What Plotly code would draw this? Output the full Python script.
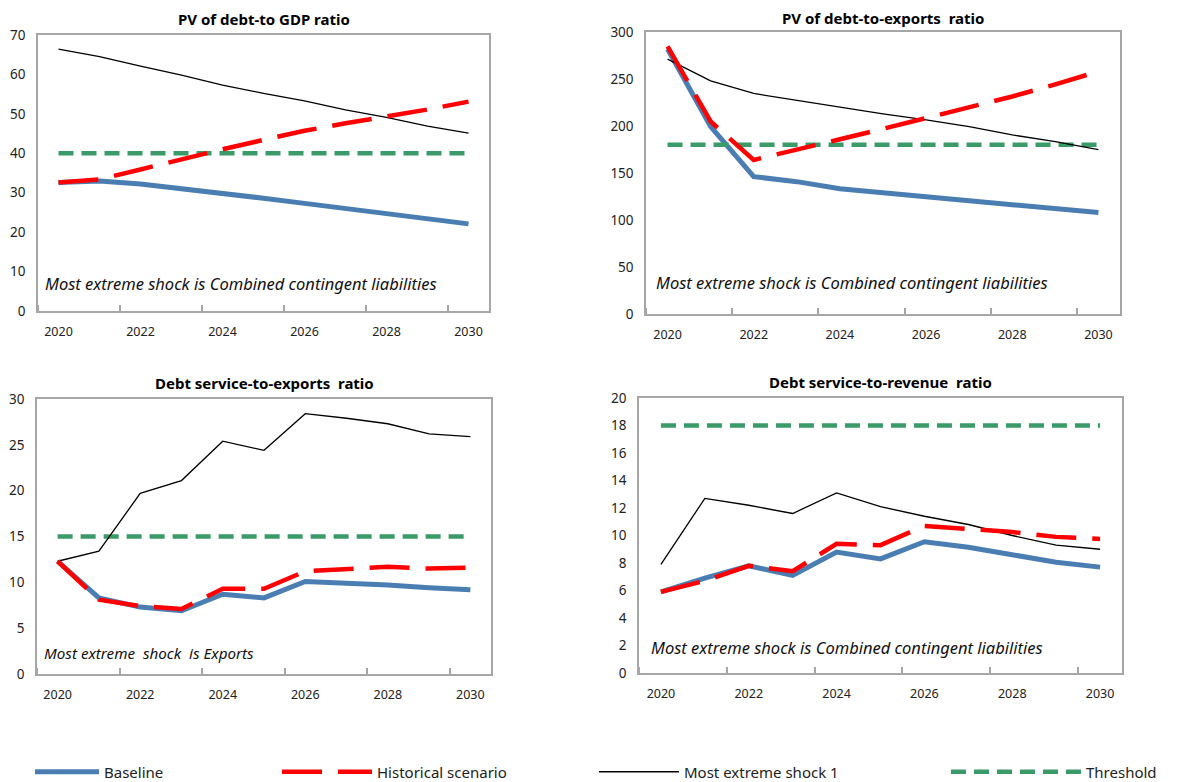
import plotly.graph_objects as go

years = list(range(2020, 2031))
tick_years = [2020, 2022, 2024, 2026, 2028, 2030]

titles = ["PV of debt-to GDP ratio", "PV of debt-to-exports  ratio",
          "Debt service-to-exports  ratio", "Debt service-to-revenue  ratio"]
notes = ["Most extreme shock is Combined contingent liabilities",
         "Most extreme shock is Combined contingent liabilities",
         "Most extreme  shock  is Exports",
         "Most extreme shock is Combined contingent liabilities"]

# Panel 1: PV of debt-to-GDP
p1_baseline = [32.6, 33.0, 32.2, 31.1, 30.0, 28.6, 27.3, 26.0, 24.5, 23.3, 22.1]
p1_hist = [32.6, 33.4, 35.9, 38.5, 41.0, 43.4, 45.7, 47.6, 49.3, 51.1, 53.1]
p1_shock = [66.4, 64.5, 62.1, 59.8, 57.3, 55.2, 53.3, 51.0, 49.1, 46.9, 45.1]
p1_thr = [40] * 11

# Panel 2: PV of debt-to-exports
p2_baseline = [282.0, 199.4, 146.1, 140.8, 133.3, 129.4, 124.8, 120.5, 116.2, 111.6, 108.1]
p2_hist = [284.8, 204.8, 163.9, 174.5, 185.9, 197.0, 208.3, 220.0, 231.4, 244.2, 258.1]
p2_shock = [271.2, 248.1, 234.6, 227.2, 220.0, 212.9, 206.5, 199.4, 190.5, 183.4, 174.9]
p2_thr = [180] * 11

# Panel 3: Debt service-to-exports
p3_baseline = [12.3, 8.3, 7.3, 6.9, 8.7, 8.3, 10.1, 9.95, 9.7, 9.4, 9.2]
p3_hist = [12.3, 8.1, 7.4, 7.1, 9.3, 9.3, 11.2, 11.5, 11.7, 11.5, 11.6]
p3_shock = [12.3, 13.4, 19.7, 21.1, 25.4, 24.4, 28.4, 27.9, 27.3, 26.2, 25.9]
p3_thr = [15] * 11

# Panel 4: Debt service-to-revenue
p4_baseline = [5.9, 6.9, 7.8, 7.1, 8.8, 8.3, 9.55, 9.15, 8.6, 8.05, 7.7]
p4_hist = [5.9, 6.7, 7.8, 7.4, 9.4, 9.3, 10.7, 10.5, 10.25, 9.9, 9.75]
p4_shock = [7.9, 12.7, 12.2, 11.6, 13.1, 12.1, 11.4, 10.8, 10.0, 9.3, 9.0]
p4_thr = [18] * 11

y_ranges = [[0, 70], [0, 300], [0, 30], [0, 20]]
y_dticks = [10, 50, 5, 2]

panels = [
    (p1_baseline, p1_hist, p1_shock, p1_thr),
    (p2_baseline, p2_hist, p2_shock, p2_thr),
    (p3_baseline, p3_hist, p3_shock, p3_thr),
    (p4_baseline, p4_hist, p4_shock, p4_thr),
]

W, H = 1190, 782
OFF = 8  # page body margin offset
# plot area boxes in screen pixels: (left, right, top, bottom)
boxes = [(38, 489, 35, 311), (646, 1120, 32, 314), (37, 491, 399, 674), (639, 1122, 398, 673)]
title_shift = [16, 14, 16, 16]
note_pos = [(0.012, 0.10), (0.017, 0.113), (0.012, 0.076), (0.021, 0.091)]
note_size = [16.5, 16.5, 15.2, 16.5]
# legend boxes: screen x and symbol width for Baseline, Historical, Most extreme, Threshold
legend_px = [30, 277, 594, 946]
legend_sym = [64, 90, 80, 130]

BLUE = "#4A7EB3"
RED = "#FF0000"
GREEN = "#3A9A68"
FRAME = "#A6A6A6"
FONT = "Noto Sans"

fig = go.Figure()

names = ["Baseline", "Historical scenario", "Most extreme shock 1", "Threshold"]
for i, (base, hist, shock, thr) in enumerate(panels):
    xa = "x" if i == 0 else f"x{i+1}"
    ya = "y" if i == 0 else f"y{i+1}"
    show = i == 0
    fig.add_trace(go.Scatter(x=years, y=base, mode="lines", name=names[0], legend="legend",
                             line=dict(color=BLUE, width=5), xaxis=xa, yaxis=ya, showlegend=show))
    fig.add_trace(go.Scatter(x=years, y=thr, mode="lines", name=names[3], legend="legend4",
                             line=dict(color=GREEN, width=4.5, dash="15px,8px"), xaxis=xa, yaxis=ya,
                             showlegend=show))
    fig.add_trace(go.Scatter(x=years, y=shock, mode="lines", name=names[2], legend="legend3",
                             line=dict(color="black", width=1.3), xaxis=xa, yaxis=ya, showlegend=show))
    fig.add_trace(go.Scatter(x=years, y=hist, mode="lines", name=names[1], legend="legend2",
                             line=dict(color=RED, width=4.5, dash="40px,16px"), xaxis=xa, yaxis=ya,
                             showlegend=show))

layout = dict(
    width=W, height=H, margin=dict(l=0, r=0, t=0, b=0, autoexpand=False),
    paper_bgcolor="white", plot_bgcolor="white",
    font=dict(family=FONT, size=13, color="#222222"),
    showlegend=True,
)
for k, lx in enumerate(legend_px):
    key = "legend" if k == 0 else f"legend{k+1}"
    layout[key] = dict(orientation="h", x=(lx - OFF) / W, y=1 - (772 - OFF) / H,
                       xanchor="left", yanchor="middle", itemwidth=legend_sym[k],
                       font=dict(size=15, color="#222222"), bgcolor="rgba(0,0,0,0)")

annotations = []
for i, (l, r, t, b) in enumerate(boxes):
    sx = "" if i == 0 else str(i + 1)
    layout[f"xaxis{sx}"] = dict(
        domain=[(l - OFF) / W, (r - OFF) / W], anchor=f"y{sx}", range=[2019.5, 2030.5],
        tickvals=tick_years, ticktext=[str(v) for v in tick_years], ticks="",
        showline=True, linecolor=FRAME, linewidth=1.5, mirror=True,
        showgrid=False, zeroline=False, tickfont=dict(size=12.5), ticklabelstandoff=8,
        minor=dict(tick0=2021.5, dtick=2, ticks="inside", ticklen=6, tickcolor=FRAME, tickwidth=1.5),
    )
    layout[f"yaxis{sx}"] = dict(
        domain=[1 - (b - OFF) / H, 1 - (t - OFF) / H], anchor=f"x{sx}", range=y_ranges[i],
        dtick=y_dticks[i],
        showline=True, linecolor=FRAME, linewidth=1.5, mirror=True,
        showgrid=False, zeroline=False, ticks="", tickfont=dict(size=13.5), ticklabelstandoff=8,
    )
    xr = "x domain" if i == 0 else f"x{i+1} domain"
    yr = "y domain" if i == 0 else f"y{i+1} domain"
    annotations.append(dict(text=f"<b>{titles[i]}</b>", xref=xr, yref=yr, x=0.5, y=1,
                            yshift=title_shift[i], xanchor="center", yanchor="middle",
                            showarrow=False, font=dict(size=15, color="black")))
    nx, ny = note_pos[i]
    annotations.append(dict(text=f"<i>{notes[i]}</i>", xref=xr, yref=yr, x=nx, y=ny,
                            xanchor="left", yanchor="middle", showarrow=False,
                            font=dict(size=note_size[i], color="#111111")))
layout["annotations"] = annotations
fig.update_layout(**layout)

fig.write_html("out.html")
